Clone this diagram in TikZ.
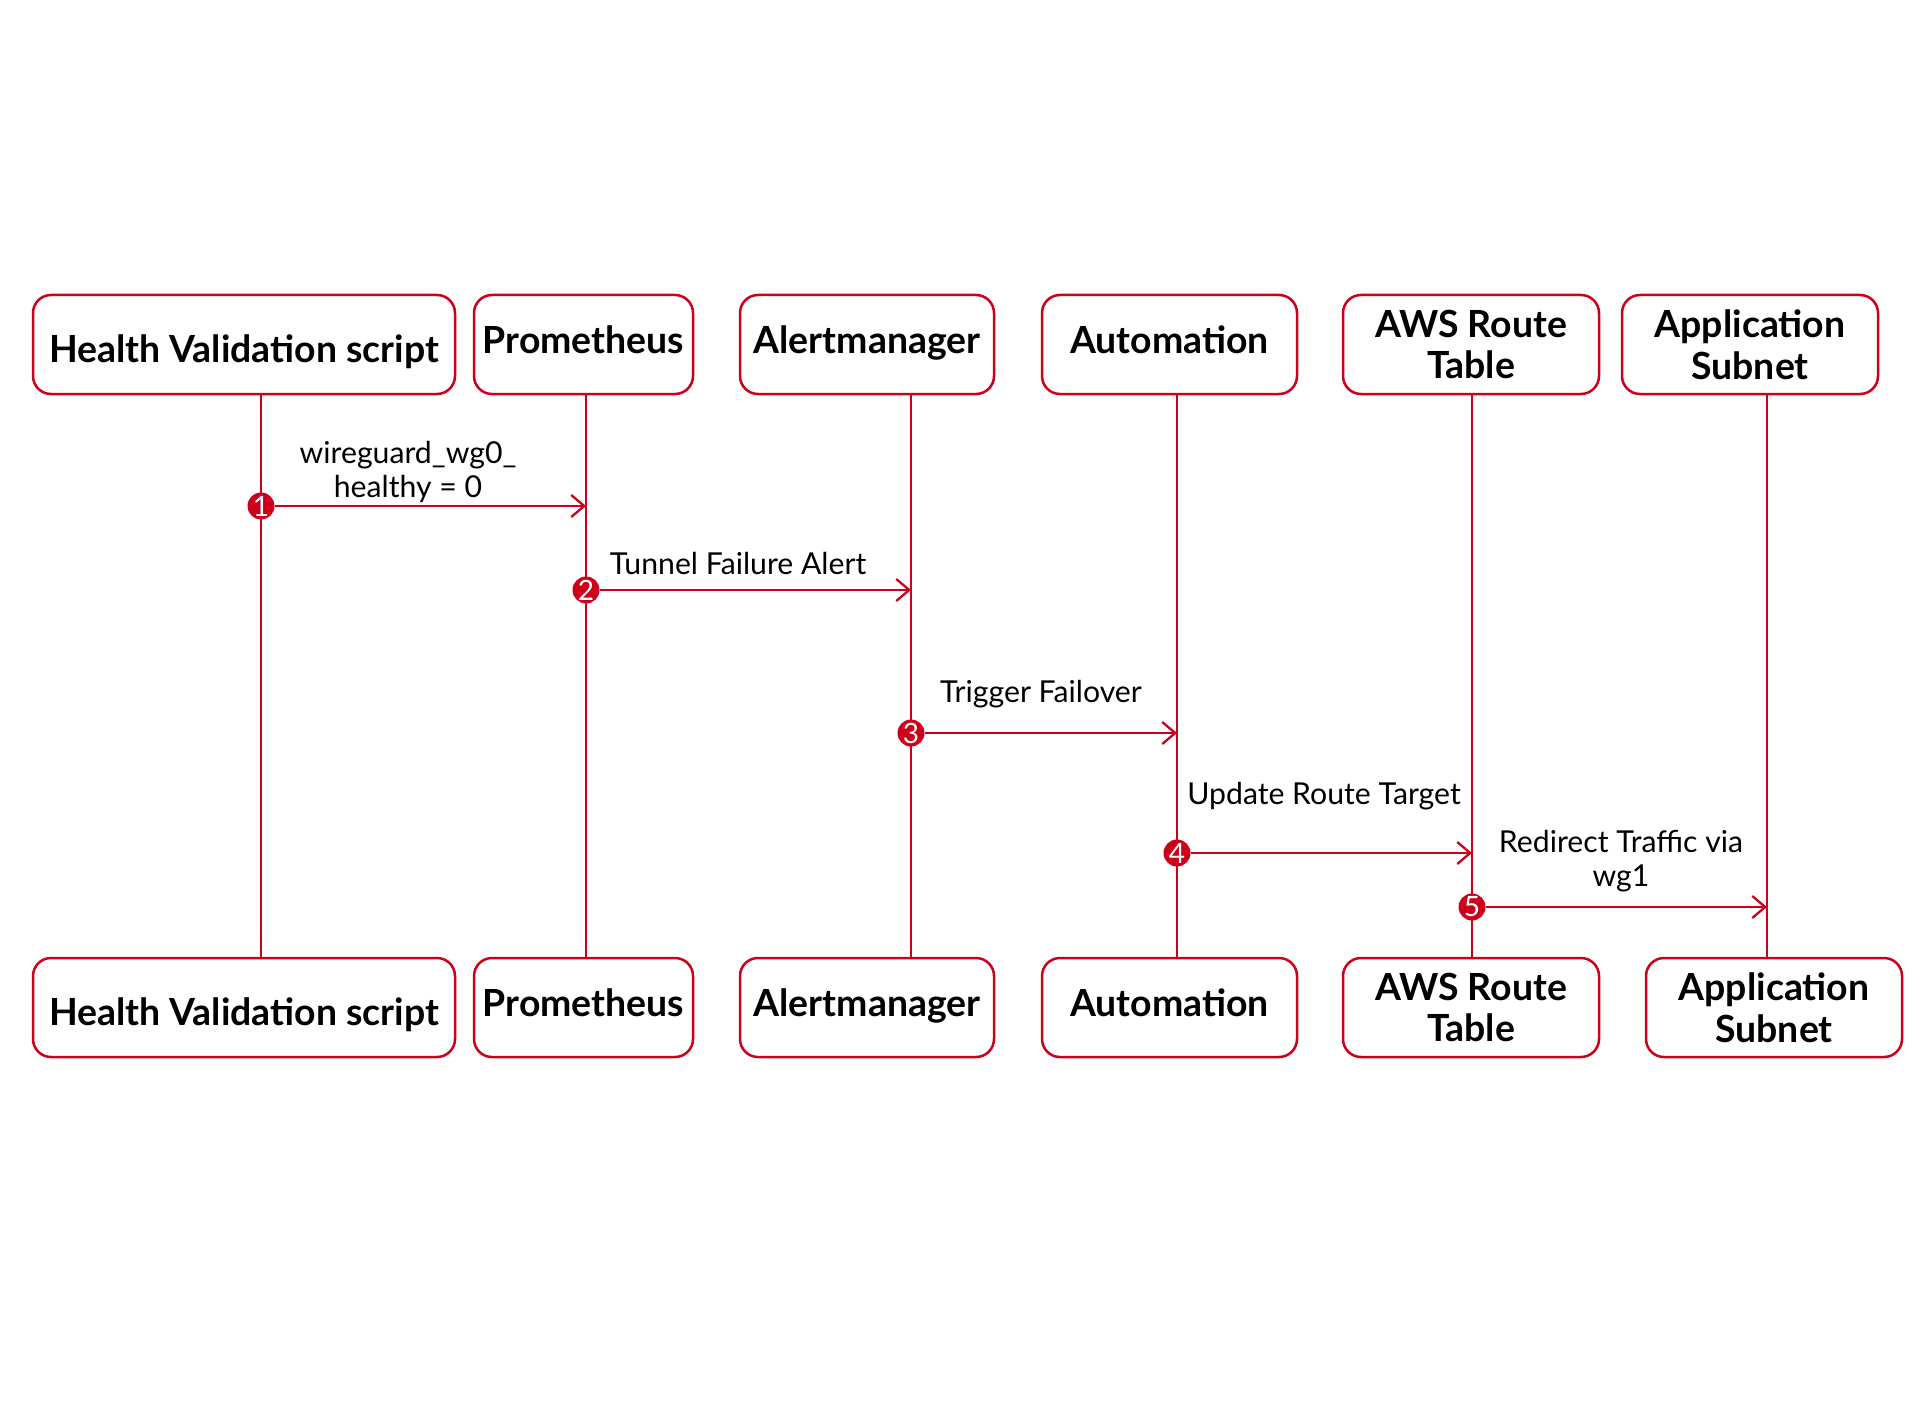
\documentclass[tikz,border=0pt]{standalone}
\usepackage{fontspec}
\setmainfont{Lato}
\usetikzlibrary{arrows.meta,shapes.geometric,positioning}
\definecolor{seqred}{RGB}{204,0,26}
\tikzstyle{actor} = [rectangle,
                    align = center,
                    draw=seqred,
                    fill=white,
                    line width=1.25pt,
                    rounded corners=9pt,
                    minimum height=49.5pt,
                    inner sep=0pt,
                    font=\fontsize{18.7}{20.8}\selectfont\bfseries]
\tikzstyle{oneline} = [text height=13.5pt, text depth=5pt]
\tikzstyle{lowline} = [text height=22pt, text depth=4pt]
\tikzstyle{lifeline} = [draw=seqred, line width=1.15pt]
\tikzstyle{msg} = [draw=seqred, line width=1.15pt,
                  -{Straight Barb[length=6.5pt,width=11pt]}]
\tikzstyle{marker} = [circle, fill=seqred, text=white,
                     minimum size=13.5pt, inner sep=0pt,
                     font=\fontsize{14}{14}\selectfont]
\tikzstyle{note} = [align=center, inner sep=0pt,
                   font=\fontsize{15.1}{17}\selectfont]
\tikzstyle{seq} = [x=0.5pt, y=-0.5pt]

\begin{document}
\begin{tikzpicture}[seq]
    \path[fill=white] (0,0) rectangle (1920,1417);
    % participants, top row
    \node (hvsT) at (244,344.5) [actor, lowline, minimum width=211pt] {Health Validation script};
    \node (promT) at (583.5,344.5) [actor, oneline, minimum width=109.5pt] {Prometheus};
    \node (alertT) at (867,344.5) [actor, oneline, minimum width=127pt] {Alertmanager};
    \node (autoT) at (1169.5,344.5) [actor, oneline, minimum width=127.5pt] {Automation};
    \node (awsT) at (1471,344.5) [actor, minimum width=128pt] {AWS Route\\Table};
    \node (appT) at (1750,344.5) [actor, minimum width=128pt] {Application\\Subnet};
    % participants, bottom row
    \node (hvsB) at (244,1007.5) [actor, lowline, minimum width=211pt] {Health Validation script};
    \node (promB) at (583.5,1007.5) [actor, oneline, minimum width=109.5pt] {Prometheus};
    \node (alertB) at (867,1007.5) [actor, oneline, minimum width=127pt] {Alertmanager};
    \node (autoB) at (1169.5,1007.5) [actor, oneline, minimum width=127.5pt] {Automation};
    \node (awsB) at (1471,1007.5) [actor, minimum width=128pt] {AWS Route\\Table};
    \node (appB) at (1774,1007.5) [actor, minimum width=128pt] {Application\\Subnet};
    % lifelines
    \coordinate (l1) at (261,0);
    \coordinate (l2) at (586,0);
    \coordinate (l3) at (911,0);
    \coordinate (l4) at (1177,0);
    \coordinate (l5) at (1472,0);
    \coordinate (l6) at (1767,0);
    \draw[lifeline] (hvsT.south -| l1) -- (hvsB.north -| l1);
    \draw[lifeline] (promT.south -| l2) -- (promB.north -| l2);
    \draw[lifeline] (alertT.south -| l3) -- (alertB.north -| l3);
    \draw[lifeline] (autoT.south -| l4) -- (autoB.north -| l4);
    \draw[lifeline] (awsT.south -| l5) -- (awsB.north -| l5);
    \draw[lifeline] (appT.south -| l6) -- (appB.north -| l6);
    % numbered messages
    \node (m1) at (261,506) [marker] {1};
    \node (m2) at (586,590) [marker] {2};
    \node (m3) at (911,733) [marker] {3};
    \node (m4) at (1177,853) [marker] {4};
    \node (m5) at (1472,907) [marker] {5};
    \draw[msg] (m1) -- (m1 -| l2);
    \draw[msg] (m2) -- (m2 -| l3);
    \draw[msg] (m3) -- (m3 -| l4);
    \draw[msg] (m4) -- (m4 -| l5);
    \draw[msg] (m5) -- (m5 -| l6);
    \node (t1) at (408,471.5) [note] {wireguard\_wg0\_\\healthy = 0};
    \node (t2) at (738,563) [note] {Tunnel Failure Alert};
    \node (t3) at (1041,694) [note] {Trigger Failover};
    \node (t4) at (1324,796) [note] {Update Route Target};
    \node (t5) at (1621,861) [note] {Redirect Traffic via\\wg1};
\end{tikzpicture}
\end{document}
